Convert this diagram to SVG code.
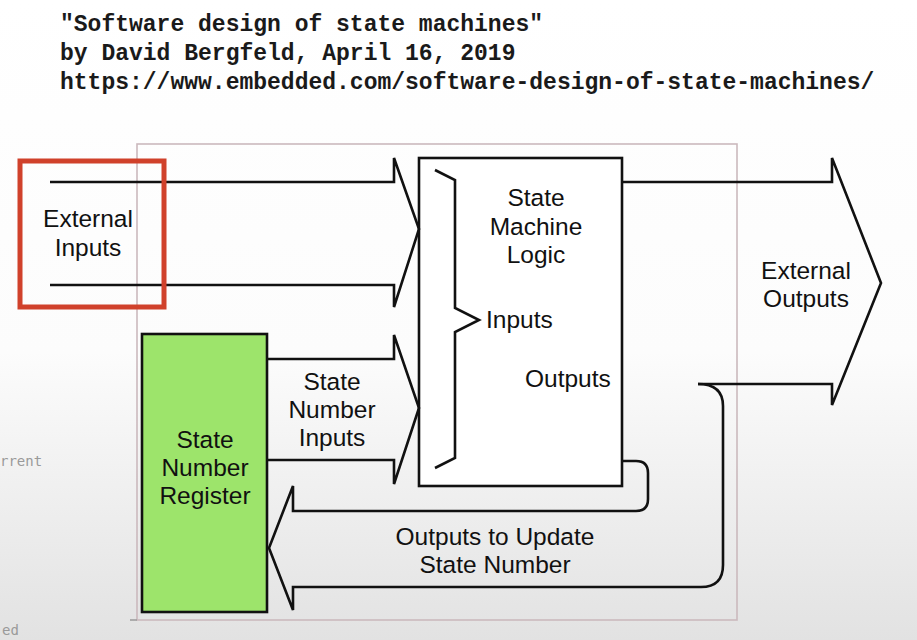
<svg xmlns="http://www.w3.org/2000/svg" width="917" height="640" viewBox="0 0 917 640">
  <defs>
    <linearGradient id="bg" x1="0" y1="0" x2="0" y2="1">
      <stop offset="0" stop-color="#ffffff"/>
      <stop offset="0.55" stop-color="#fcfcfc"/>
      <stop offset="1" stop-color="#e2e2e2"/>
    </linearGradient>
    <style>
      .title { font-family: "Liberation Mono", "Courier New", monospace; font-weight: bold; font-size: 23px; fill: #1a1a1a; }
      .lbl { font-family: "Liberation Sans", Arial, sans-serif; font-size: 24.5px; fill: #111; text-anchor: middle; }
      .lbl-start { font-family: "Liberation Sans", Arial, sans-serif; font-size: 24.5px; fill: #111; }
      .wire { fill: none; stroke: #111; stroke-width: 2.6; stroke-linejoin: miter; }
      .box { fill: #ffffff; stroke: #111; stroke-width: 2.6; }
      .ghost { font-family: "DejaVu Sans Mono", monospace; font-size: 14px; fill: #9a9a9a; }
    </style>
  </defs>

  <rect x="0" y="0" width="917" height="640" fill="url(#bg)"/>

  <g id="title">
    <text class="title" x="60" y="31">"Software design of state machines"</text>
    <text class="title" x="60" y="60">by David Bergfeld, April 16, 2019</text>
    <text class="title" x="60" y="89">https://www.embedded.com/software-design-of-state-machines/</text>
  </g>

  <g id="background-residue">
    <text class="ghost" x="0" y="466">rrent</text>
    <text class="ghost" x="2" y="635" font-size="11">ed</text>
  </g>

  <g id="frame">
    <rect x="137" y="144" width="600" height="476" fill="none" stroke="#cbb9bd" stroke-width="1.6"/>
    <line x1="130" y1="620" x2="137" y2="620" stroke="#9a9a9a" stroke-width="1.5"/>
  </g>

  <g id="node-state-machine-logic">
    <rect class="box" x="419" y="158" width="203" height="328"/>
    <path class="wire" d="M435,170 L455,180 V308 L479,320 L455,332 V458 L435,468"/>
    <text class="lbl" x="536" y="206">State</text>
    <text class="lbl" x="536" y="235">Machine</text>
    <text class="lbl" x="536" y="263">Logic</text>
    <text class="lbl-start" x="486" y="328">Inputs</text>
    <text class="lbl-start" x="525" y="387">Outputs</text>
  </g>

  <g id="node-state-number-register">
    <rect x="142" y="334" width="125" height="278" fill="#9de46b" stroke="#111" stroke-width="2.6"/>
    <text class="lbl" x="205" y="448">State</text>
    <text class="lbl" x="205" y="476">Number</text>
    <text class="lbl" x="205" y="504">Register</text>
  </g>

  <g id="connectors">
    <g id="external-inputs-arrow">
      <path class="wire" d="M50,182 H394 V158 L419,229 L394,307 V285 H50"/>
    </g>
    <g id="state-number-inputs-arrow">
      <path class="wire" d="M267,359 H394 V335 L419,408 L394,484 V460 H267"/>
      <text class="lbl" x="332" y="390">State</text>
      <text class="lbl" x="332" y="418">Number</text>
      <text class="lbl" x="332" y="446">Inputs</text>
    </g>
    <g id="external-outputs-arrow">
      <path class="wire" d="M622,182 H832 V158 L881,283 L832,405 V384 H698"/>
      <text class="lbl" x="806" y="279">External</text>
      <text class="lbl" x="806" y="307">Outputs</text>
    </g>
    <g id="feedback-arrow">
      <path class="wire" d="M622,461 H636 Q648,461 648,473 V499 Q648,511 636,511 H293 V486 L269,548 L293,610 V587 H701 Q723,587 723,565 V406 C723,392 716,384 698,384"/>
      <text class="lbl" x="495" y="545">Outputs to Update</text>
      <text class="lbl" x="495" y="573">State Number</text>
    </g>
  </g>

  <g id="node-external-inputs">
    <rect x="20" y="161" width="144" height="146" fill="none" stroke="#d0412b" stroke-width="5"/>
    <text class="lbl" x="88" y="227">External</text>
    <text class="lbl" x="88" y="256">Inputs</text>
  </g>
</svg>
